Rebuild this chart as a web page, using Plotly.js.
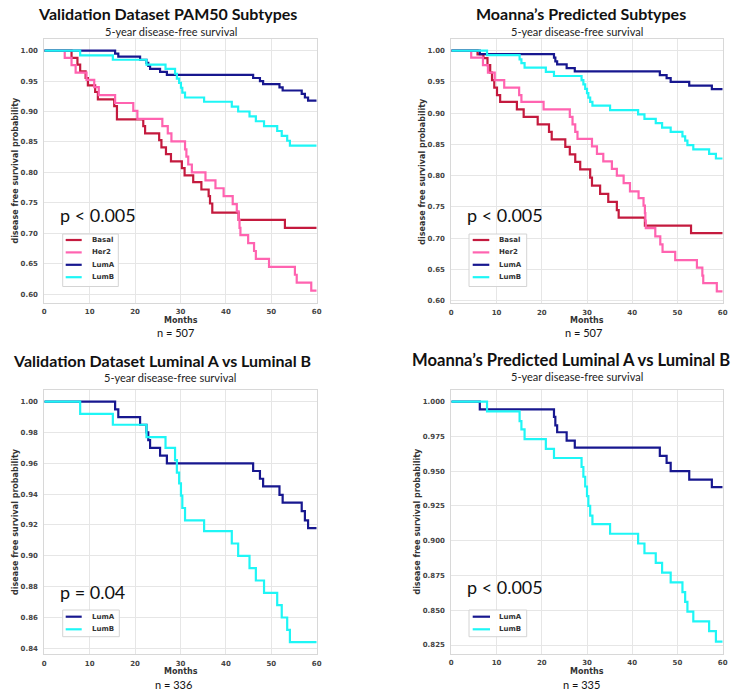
<!DOCTYPE html>
<html>
<head>
<meta charset="utf-8">
<script src="https://cdn.plot.ly/plotly-3.0.1.min.js"></script>
<style>html,body{margin:0;padding:0;background:#fff}#chart{width:731px;height:691px}</style>
</head>
<body>
<div id="chart"></div>
<script>
// ---------------- DATA (months, survival probability) ----------------
// Validation dataset (PAM50 labels)
const valBasalT = [0, 6.0, 7.3, 7.9, 9.1, 9.6, 11.2, 11.8, 15.4, 16.0, 21.8, 22.2, 25.3, 25.8, 26.8, 27.9, 30.3, 30.9, 32.8, 34.6, 36.2, 36.5, 37.0, 42.8, 53.0, 60];
const valBasalS = [1, 0.988, 0.977, 0.966, 0.955, 0.943, 0.932, 0.920, 0.909, 0.887, 0.876, 0.864, 0.853, 0.841, 0.830, 0.818, 0.807, 0.795, 0.784, 0.772, 0.761, 0.749, 0.734, 0.722, 0.709, 0.709];
const valHer2T = [0, 4.5, 6.0, 6.9, 9.3, 11.0, 12.0, 15.6, 19.6, 20.5, 26.0, 27.2, 28.0, 31.0, 31.3, 31.7, 32.5, 35.5, 37.7, 39.5, 41.5, 42.4, 42.8, 43.0, 43.2, 44.9, 46.2, 46.6, 49.5, 55.2, 55.6, 58.8, 60];
const valHer2S = [1, 0.988, 0.976, 0.964, 0.952, 0.940, 0.927, 0.914, 0.901, 0.888, 0.876, 0.864, 0.851, 0.838, 0.826, 0.813, 0.800, 0.787, 0.774, 0.761, 0.748, 0.736, 0.722, 0.709, 0.697, 0.684, 0.671, 0.658, 0.645, 0.632, 0.619, 0.606, 0.606];
const valLumAT = [0, 15.6, 16.3, 21.1, 22.5, 22.9, 23.3, 25.5, 27.0, 46.0, 47.5, 48.2, 51.8, 52.5, 56.7, 57.4, 58.1, 60];
const valLumAS = [1, 0.995, 0.990, 0.985, 0.980, 0.975, 0.970, 0.965, 0.960, 0.955, 0.950, 0.945, 0.9395, 0.9345, 0.929, 0.923, 0.918, 0.918];
const valLumBT = [0, 7.9, 15.1, 22.5, 26.7, 28.8, 29.2, 29.7, 30.1, 30.4, 31.0, 35.2, 41.3, 42.7, 45.2, 46.6, 48.4, 51.3, 52.3, 53.5, 54.1, 60];
const valLumBS = [1, 0.992, 0.985, 0.977, 0.970, 0.962, 0.954, 0.947, 0.939, 0.931, 0.923, 0.916, 0.908, 0.900, 0.892, 0.884, 0.876, 0.868, 0.860, 0.852, 0.844, 0.844];

// Moanna's predicted subtypes
const moaBasalT = [0, 5.8, 7.1, 8.0, 8.6, 9.0, 9.5, 10.1, 10.8, 14.5, 16.0, 19.1, 21.6, 22.2, 25.2, 26.2, 27.4, 28.5, 30.7, 31.1, 32.9, 34.7, 36.6, 37.0, 42.8, 53.0, 60];
const moaBasalS = [1, 0.994, 0.988, 0.977, 0.965, 0.953, 0.941, 0.929, 0.918, 0.906, 0.894, 0.882, 0.870, 0.858, 0.846, 0.834, 0.822, 0.810, 0.797, 0.784, 0.771, 0.758, 0.745, 0.733, 0.720, 0.708, 0.708];
const moaHer2T = [0, 4.4, 7.0, 8.1, 9.6, 11.7, 15.0, 15.5, 20.4, 26.2, 26.8, 27.4, 27.9, 31.1, 32.2, 33.6, 35.5, 36.6, 38.1, 39.5, 41.4, 42.5, 42.8, 42.9, 43.0, 45.1, 46.2, 46.7, 49.5, 54.3, 55.5, 55.7, 58.7, 60];
const moaHer2S = [1, 0.989, 0.977, 0.965, 0.953, 0.941, 0.929, 0.918, 0.906, 0.894, 0.882, 0.870, 0.859, 0.847, 0.835, 0.823, 0.811, 0.800, 0.788, 0.775, 0.764, 0.752, 0.740, 0.728, 0.716, 0.703, 0.690, 0.678, 0.665, 0.653, 0.640, 0.628, 0.615, 0.615];
const moaLumAT = [0, 6.3, 22.7, 23.0, 23.4, 25.5, 27.3, 46.1, 47.6, 48.5, 52.6, 57.6, 60];
const moaLumAS = [1, 0.9945, 0.989, 0.983, 0.978, 0.972, 0.967, 0.961, 0.956, 0.950, 0.944, 0.9385, 0.9385];
const moaLumBT = [0, 7.9, 15.1, 15.5, 16.2, 20.9, 22.7, 28.8, 29.2, 29.6, 30.0, 30.3, 30.7, 31.2, 35.1, 41.3, 42.7, 45.2, 46.6, 48.5, 51.1, 51.7, 52.2, 53.5, 57.0, 58.5, 60];
const moaLumBS = [1, 0.993, 0.986, 0.980, 0.973, 0.966, 0.9595, 0.953, 0.946, 0.939, 0.932, 0.925, 0.918, 0.912, 0.905, 0.898, 0.891, 0.884, 0.877, 0.870, 0.863, 0.856, 0.849, 0.842, 0.835, 0.8275, 0.8275];

const subtypeNames = ['Basal', 'Her2', 'LumA', 'LumB'];
const subtypeColors = {Basal: '#c41a3e', Her2: '#ff63b0', LumA: '#17178f', LumB: '#1ef6f6'};

const panelTitles = ['Validation Dataset PAM50 Subtypes', 'Moanna\u2019s Predicted Subtypes',
                     'Validation Dataset Luminal A vs Luminal B', 'Moanna\u2019s Predicted Luminal A vs Luminal B'];
const subTitle = '5-year disease-free survival';
const pValues = ['p < 0.005', 'p < 0.005', 'p = 0.04', 'p < 0.005'];
const nLabels = ['n = 507', 'n = 507', 'n = 336', 'n = 335'];
const xTickVals = [0, 10, 20, 30, 40, 50, 60];

// ---------------- LAYOUT HELPERS ----------------
const W = 731, H = 691;
const px = x => x / W;
const py = y => 1 - y / H;

// panel geometry (pixels)
const panels = [
  {ax: '', left: 44.3, right: 316.7, top: 38.6, bottom: 302.6, yr: [0.5863, 1.0197], dt: 0.05, fmt: '.2f',
   title: {x: 167, y: 14, anchor: 'center', size: 16}, sub: {x: 170.5, y: 31}, p: {x: 58, y: 215},
   ylab: 16, months: {x: 180.5, y: 320}, n: {x: 175, y: 332},
   leg: {x0: 62.7, x1: 118.3, y0: 234, y1: 286.5, l0: 65.7, l1: 81.7, tx: 90, rows: [240, 252.4, 264.8, 277.2]},
   series: [['Basal', valBasalT, valBasalS], ['Her2', valHer2T, valHer2S], ['LumA', valLumAT, valLumAS], ['LumB', valLumBT, valLumBS]]},
  {ax: '2', left: 451.3, right: 722.7, top: 38.6, bottom: 303.3, yr: [0.5958, 1.0193], dt: 0.05, fmt: '.2f',
   title: {x: 580.5, y: 14, anchor: 'center', size: 16}, sub: {x: 577, y: 31}, p: {x: 465, y: 215},
   ylab: 422.7, months: {x: 587, y: 320}, n: {x: 583, y: 332.5},
   leg: {x0: 469, x1: 526.7, y0: 234, y1: 286.5, l0: 472.7, l1: 489.3, tx: 496.7, rows: [240, 252.4, 264.8, 277.2]},
   series: [['Basal', moaBasalT, moaBasalS], ['Her2', moaHer2T, moaHer2S], ['LumA', moaLumAT, moaLumAS], ['LumB', moaLumBT, moaLumBS]]},
  {ax: '3', left: 44.3, right: 316.7, top: 389.6, bottom: 654.2, yr: [0.8362, 1.0078], dt: 0.02, fmt: '.2f',
   title: {x: 162, y: 360, anchor: 'center', size: 16}, sub: {x: 170, y: 377.3}, p: {x: 58.3, y: 591.7},
   ylab: 16, months: {x: 180.5, y: 671.5}, n: {x: 173, y: 684.3},
   leg: {x0: 62.7, x1: 119.3, y0: 610, y1: 636.7, l0: 65.7, l1: 81.7, tx: 90, rows: [616.7, 629.3]},
   series: [['LumA', valLumAT, valLumAS], ['LumB', valLumBT, valLumBS]]},
  {ax: '4', left: 451.3, right: 722.7, top: 389.7, bottom: 653.5, yr: [0.8189, 1.0086], dt: 0.025, fmt: '.3f',
   title: {x: 410, y: 360, anchor: 'left', size: 16.6}, sub: {x: 577, y: 376.7}, p: {x: 465, y: 587.3},
   ylab: 418, months: {x: 587, y: 671.5}, n: {x: 581, y: 684.5},
   leg: {x0: 469, x1: 526.7, y0: 610, y1: 636.7, l0: 472.7, l1: 490, tx: 496.7, rows: [616.7, 629.3]},
   series: [['LumA', moaLumAT, moaLumAS], ['LumB', moaLumBT, moaLumBS]]}
];

const tickFont = {family: 'DejaVu Sans', size: 7, color: '#444', weight: 'bold'};
const labFont = {family: 'DejaVu Sans', size: 8, color: '#333', weight: 'bold'};
const subFont = {family: 'Lato', size: 11, color: '#222'};
const pFont = {family: 'Lato', size: 18, color: '#111'};
const nFont = {family: 'Lato', size: 11, color: '#111'};

const traces = [];
const layout = {
  width: W, height: H,
  margin: {l: 0, r: 0, t: 0, b: 0},
  paper_bgcolor: '#fff', plot_bgcolor: '#fff',
  showlegend: false,
  annotations: [], shapes: []
};

panels.forEach((p, i) => {
  const xa = 'xaxis' + p.ax, ya = 'yaxis' + p.ax;
  const xid = 'x' + p.ax, yid = 'y' + p.ax;
  layout[xa] = {
    domain: [px(p.left), px(p.right)], anchor: yid, range: [0, 60],
    tickvals: xTickVals, ticks: '', tickfont: tickFont, ticklabelstandoff: 2,
    showgrid: true, gridcolor: '#e6e6e6', gridwidth: 1, zeroline: false,
    showline: true, mirror: true, linecolor: '#d8d8d8', linewidth: 1, fixedrange: true
  };
  layout[ya] = {
    domain: [py(p.bottom), py(p.top)], anchor: xid, range: p.yr,
    dtick: p.dt, tick0: 0, tickformat: p.fmt, ticks: '', tickfont: tickFont, ticklabelstandoff: 4,
    showgrid: true, gridcolor: '#e6e6e6', gridwidth: 1, zeroline: false,
    showline: true, mirror: true, linecolor: '#d8d8d8', linewidth: 1, fixedrange: true
  };
  p.series.forEach(s => {
    traces.push({
      type: 'scatter', mode: 'lines', name: s[0], x: s[1], y: s[2],
      xaxis: xid, yaxis: yid, line: {shape: 'hv', color: subtypeColors[s[0]], width: 2.2},
      hoverinfo: 'skip'
    });
  });
  const A = layout.annotations;
  A.push({xref: 'paper', yref: 'paper', x: px(p.title.x), y: py(p.title.y), xanchor: p.title.anchor, yanchor: 'middle',
          text: panelTitles[i], showarrow: false,
          font: {family: 'Lato', size: p.title.size, color: '#111', weight: 'bold'}});
  A.push({xref: 'paper', yref: 'paper', x: px(p.sub.x), y: py(p.sub.y), xanchor: 'center', yanchor: 'middle',
          text: subTitle, showarrow: false, font: subFont});
  A.push({xref: 'paper', yref: 'paper', x: px(p.p.x), y: py(p.p.y), xanchor: 'left', yanchor: 'middle',
          text: pValues[i], showarrow: false, font: pFont});
  A.push({xref: 'paper', yref: 'paper', x: px(p.ylab), y: py((p.top + p.bottom) / 2), xanchor: 'center', yanchor: 'middle',
          text: 'disease free survival probability', textangle: -90, showarrow: false, font: labFont});
  A.push({xref: 'paper', yref: 'paper', x: px(p.months.x), y: py(p.months.y), xanchor: 'center', yanchor: 'middle',
          text: 'Months', showarrow: false, font: {family: 'DejaVu Sans', size: 8, color: '#333', weight: 'bold'}});
  A.push({xref: 'paper', yref: 'paper', x: px(p.n.x), y: py(p.n.y), xanchor: 'center', yanchor: 'middle',
          text: nLabels[i], showarrow: false, font: nFont});
  // legend box
  const L = p.leg;
  layout.shapes.push({type: 'rect', xref: 'paper', yref: 'paper', x0: px(L.x0), x1: px(L.x1), y0: py(L.y1), y1: py(L.y0),
                      line: {color: '#d4d4d4', width: 1}, fillcolor: 'rgba(255,255,255,0.85)', layer: 'above'});
  p.series.forEach((s, k) => {
    layout.shapes.push({type: 'line', xref: 'paper', yref: 'paper', x0: px(L.l0), x1: px(L.l1), y0: py(L.rows[k]), y1: py(L.rows[k]),
                        line: {color: subtypeColors[s[0]], width: 2.2}, layer: 'above'});
    A.push({xref: 'paper', yref: 'paper', x: px(L.tx), y: py(L.rows[k]), xanchor: 'left', yanchor: 'middle',
            text: s[0], showarrow: false, font: {family: 'DejaVu Sans', size: 7, color: '#333', weight: 'bold'}});
  });
});

Plotly.newPlot('chart', traces, layout, {staticPlot: true, displayModeBar: false});
</script>
</body>
</html>
